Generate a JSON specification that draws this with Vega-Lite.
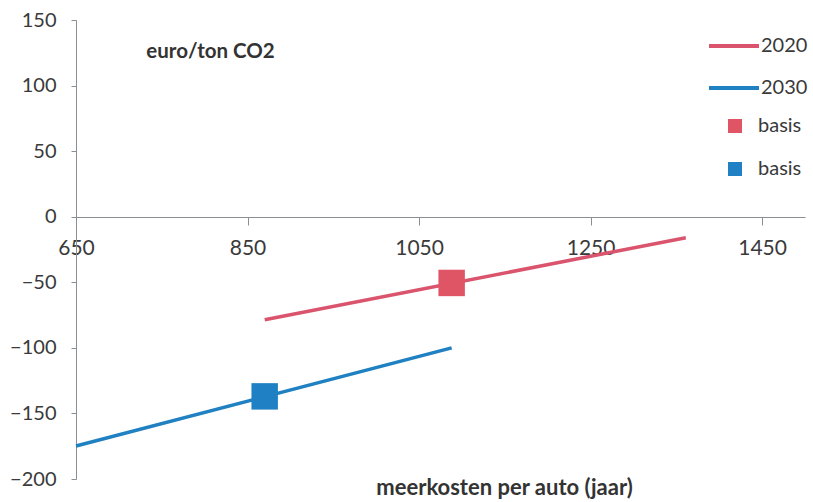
{
  "$schema": "https://vega.github.io/schema/vega-lite/v6.json",
  "width": 729,
  "height": 459,
  "autosize": {"type": "none"},
  "padding": {"left": 76, "top": 20, "right": 8, "bottom": 23},
  "background": "white",
  "config": {
    "view": {"stroke": null},
    "font": "Lato",
    "axis": {"grid": false, "labelFlush": false, "labelColor": "#3a3a3a", "labelFont": "Lato", "titleFont": "Lato", "domainColor": "#8a8f96", "tickColor": "#8a8f96"}
  },
  "datasets": {
    "lines": [
      {"kosten": 870, "waarde": -78.6, "reeks": "2020"},
      {"kosten": 1361, "waarde": -16, "reeks": "2020"},
      {"kosten": 650, "waarde": -174.8, "reeks": "2030"},
      {"kosten": 1088, "waarde": -100, "reeks": "2030"}
    ],
    "punten": [
      {"kosten": 1088, "waarde": -50.5, "punt": "basis 2020"},
      {"kosten": 870, "waarde": -137, "punt": "basis 2030"}
    ]
  },
  "layer": [
    {
      "data": {"name": "lines"},
      "mark": {"type": "line", "strokeWidth": 3.5},
      "encoding": {
        "x": {
          "field": "kosten", "type": "quantitative",
          "scale": {"domain": [650, 1500], "nice": false, "zero": false},
          "axis": {
            "values": [650, 850, 1050, 1250, 1450],
            "format": "d",
            "offset": -262,
            "tickSize": 8,
            "labelPadding": 12,
            "labelFontSize": 21,
            "title": "meerkosten per auto (jaar)",
            "titleFontSize": 22,
            "titleFontWeight": "bold",
            "titleColor": "#333333",
            "titleX": 428,
            "titleY": 270,
            "titleAlign": "center",
            "titleBaseline": "middle"
          }
        },
        "y": {
          "field": "waarde", "type": "quantitative",
          "scale": {"domain": [-200, 150], "nice": false, "zero": false},
          "axis": {
            "values": [-200, -150, -100, -50, 0, 50, 100, 150],
            "tickSize": 5,
            "labelPadding": 15,
            "labelFontSize": 20,
            "title": "euro/ton CO2",
            "titleAngle": 0,
            "titleFontSize": 20.5,
            "titleFontWeight": "bold",
            "titleColor": "#333333",
            "titleX": 134,
            "titleY": 31,
            "titleAlign": "center",
            "titleBaseline": "middle"
          }
        },
        "stroke": {
          "field": "reeks", "type": "nominal",
          "scale": {"domain": ["2020", "2030"], "range": ["#d9546c", "#1f80c2"]},
          "legend": {
            "title": null,
            "orient": "none",
            "legendX": 631,
            "legendY": -1,
            "symbolType": "stroke",
            "symbolSize": 2500,
            "symbolStrokeWidth": 4,
            "labelOffset": 0,
            "labelFontSize": 20,
            "labelColor": "#3a3a3a",
            "rowPadding": 5
          }
        }
      }
    },
    {
      "data": {"name": "punten"},
      "mark": {"type": "square", "size": 700, "opacity": 1, "filled": true},
      "encoding": {
        "x": {"field": "kosten", "type": "quantitative"},
        "y": {"field": "waarde", "type": "quantitative"},
        "fill": {
          "field": "punt", "type": "nominal",
          "scale": {"domain": ["basis 2020", "basis 2030"], "range": ["#e05566", "#1f80c4"]},
          "legend": {
            "title": null,
            "orient": "none",
            "legendX": 649,
            "legendY": 96,
            "symbolType": "square",
            "symbolSize": 196,
            "symbolOpacity": 1,
            "labelOffset": 13,
            "labelFontSize": 20,
            "labelColor": "#3a3a3a",
            "labelExpr": "'basis'",
            "rowPadding": 23
          }
        }
      }
    }
  ]
}
